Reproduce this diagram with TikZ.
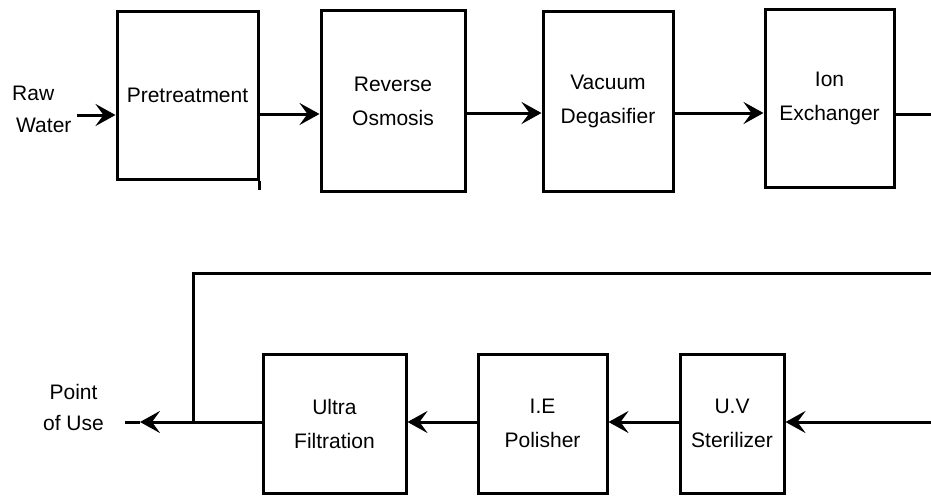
\documentclass[tikz,border=0pt]{standalone}
\usepackage{fontspec}
\setmainfont{Liberation Sans}
\usetikzlibrary{arrows.meta}
\begin{document}
\begin{tikzpicture}[x=1pt,y=-1pt,
  unit/.style={draw, line width=3pt, minimum width=#1, inner sep=0pt, align=center,
    font=\fontsize{21}{34}\selectfont},
  lbl/.style={inner sep=0pt, font=\fontsize{21}{31}\selectfont},
  flow/.style={line width=3pt},
  arrowtip/.style={-{Stealth[length=20pt,width=22pt,inset=8pt]}},
]
\useasboundingbox (0,0) rectangle (931,495);
% top row
\node[unit=141pt, minimum height=167pt] (pre) at (187.5,95.5) {Pretreatment};
\node[unit=144pt, minimum height=180pt] (ro)  at (393,101) {Reverse\\Osmosis};
\node[unit=130pt, minimum height=179pt] (vd)  at (608,101.5) {Vacuum\\Degasifier};
\node[unit=129pt, minimum height=177pt] (ix)  at (829.5,98.5) {Ion\\Exchanger};
\node[lbl, anchor=west] (raw) at (12,93) {Raw};
\node[lbl, anchor=west] (water) at (16,125) {Water};
\coordinate (rawin) at (77,115);
\coordinate (ixout) at (931,114);
\draw[flow,arrowtip] (rawin) -- (pre.west |- rawin);
\draw[flow] (pre.south east) -- ++(0,9);
\draw[flow,arrowtip] (pre.east |- 0,114) -- (ro.west |- 0,114);
\draw[flow,arrowtip] (ro.east |- 0,113) -- (vd.west |- 0,113);
\draw[flow,arrowtip] (vd.east |- 0,113) -- (ix.west |- 0,113);
\draw[flow] (ix.east |- ixout) -- (ixout);
% bottom row
\node[unit=143pt, minimum height=139pt] (uf)  at (334.5,423.5) {Ultra\\Filtration};
\node[unit=129pt, minimum height=139pt] (iep) at (542.5,423.5) {I.E\\Polisher};
\node[unit=104pt, minimum height=139pt] (uv)  at (732,423.5) {U.V\\Sterilizer};
\node[lbl, align=center] (pou) at (73.5,407) {Point\\of Use};
\coordinate (fbin) at (931,273);
\coordinate (fbcorner) at (193,273);
\coordinate (junc) at (193,422);
\coordinate (uvin) at (931,422);
\coordinate (pouend) at (125,422);
\coordinate (poutip) at (140,422);
\draw[flow] (fbin) -- (fbcorner) -- (junc);
\draw[flow,arrowtip] (uvin) -- (uv.east |- uvin);
\draw[flow,arrowtip] (uv.west |- uvin) -- (iep.east |- uvin);
\draw[flow,arrowtip] (iep.west |- uvin) -- (uf.east |- uvin);
\draw[flow,arrowtip] (uf.west |- uvin) -- (poutip);
\draw[flow] (poutip) -- (pouend);
\end{tikzpicture}
\end{document}
